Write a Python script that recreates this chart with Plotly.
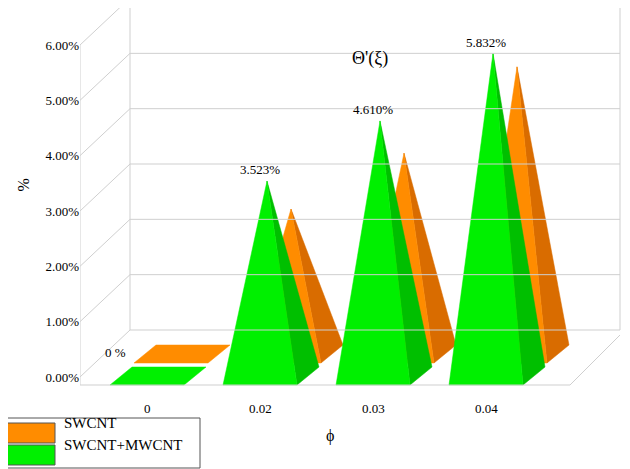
import plotly.graph_objects as go

categories = ["0", "0.02", "0.03", "0.04"]
hybrid = [0.0, 3.523, 4.610, 5.832]      # SWCNT+MWCNT (%)
single = [0.0, 2.62, 3.63, 5.19]          # SWCNT (%)
value_labels = ["0 %", "3.523%", "4.610%", "5.832%"]
yticks = [0, 1, 2, 3, 4, 5, 6]

PXU, PYU = 113.0, 55.33
def X(px): return (px - 147) / PXU
def Y(py): return (377 - py) / PYU
L, W = 72, 558
def PX(px): return (px - 80) / W
def PY(py): return 1 - (py - 8) / 469

fig = go.Figure()
grid = dict(color="#cfcfcf", width=1)
DX, DY = 50 / PXU, 47 / PYU
shapes = []
for t in yticks:
    shapes.append(dict(type="line", x0=X(80), y0=t, x1=X(80) + DX, y1=t + DY, line=grid))
    shapes.append(dict(type="line", x0=X(80) + DX, y0=t + DY, x1=X(620), y1=t + DY, line=grid))
shapes.append(dict(type="line", x0=X(130), y0=Y(0), x1=X(130), y1=Y(330), line=grid))
shapes.append(dict(type="line", x0=X(620), y0=Y(0), x1=X(620), y1=Y(330), line=grid))
shapes.append(dict(type="line", x0=X(80), y0=Y(385), x1=X(570), y1=Y(385), line=grid))
shapes.append(dict(type="line", x0=X(570), y0=Y(385), x1=X(620), y1=Y(335), line=grid))
shapes.append(dict(type="line", x0=X(80), y0=Y(385), x1=X(80), y1=Y(45), line=grid))

HW = 37 / PXU
DDX, DDY = 22 / PXU, 18 / PYU

def pyramid(xc, yb, h, front, side, ox=0.0, oy=0.0):
    xc += ox; yb += oy
    fl = (xc - HW, yb); fr = (xc + HW, yb)
    br = (xc + HW + DDX, yb + DDY); bl = (xc - HW + DDX, yb + DDY)
    if h <= 0:
        pts = [fl, fr, br, bl, fl]
        fig.add_trace(go.Scatter(x=[p[0] for p in pts], y=[p[1] for p in pts], fill="toself",
                                 fillcolor=front, line=dict(color=front, width=0.5),
                                 mode="lines", hoverinfo="skip", showlegend=False))
        return
    apex = (xc + DDX / 2 - 4 / PXU, yb + DDY / 2 + h)
    for pts, c in ([[fr, br, apex, fr], side], [[fl, fr, apex, fl], front]):
        fig.add_trace(go.Scatter(x=[p[0] for p in pts], y=[p[1] for p in pts], fill="toself",
                                 fillcolor=c, line=dict(color=c, width=0.5),
                                 mode="lines", hoverinfo="skip", showlegend=False))

base = -8 / PYU
for i, v in enumerate(single):
    pyramid(i, base, v, "#ff8c00", "#d96c00", ox=24 / PXU, oy=22 / PYU)
for i, v in enumerate(hybrid):
    pyramid(i, base, v, "#00f000", "#00bf00")

ann = []
for i, v in enumerate(hybrid):
    if v > 0:
        ann.append(dict(x=i + 0.0, y=v + 0.05, text=value_labels[i], showarrow=False,
                        yanchor="bottom", font=dict(size=13)))
ann.append(dict(x=X(115), y=Y(352), text=value_labels[0], showarrow=False, font=dict(size=13)))
for i, c in enumerate(categories):
    ann.append(dict(x=i, y=Y(408), text=c, showarrow=False, font=dict(size=13)))
ann.append(dict(x=X(370), y=Y(58), text="Θ'(ξ)", showarrow=False, font=dict(size=18)))
ann.append(dict(x=X(330), y=Y(436), text="ϕ", showarrow=False, font=dict(size=16)))
ann.append(dict(x=PX(12), y=PY(185), xref="paper", yref="paper", text="%",
                textangle=-90, showarrow=False, font=dict(size=16)))
shapes.append(dict(type="rect", xref="paper", yref="paper", x0=PX(1), x1=PX(200),
                   y0=PY(468), y1=PY(418), line=dict(color="#555", width=1)))
for j, (c, name) in enumerate([("#ff8c00", "SWCNT"), ("#00f000", "SWCNT+MWCNT")]):
    y0 = 423 + j * 22
    shapes.append(dict(type="rect", xref="paper", yref="paper", x0=PX(5), x1=PX(55),
                       y0=PY(y0 + 20), y1=PY(y0), fillcolor=c, line=dict(color="#555", width=1)))
    ann.append(dict(xref="paper", yref="paper", x=PX(62), y=PY(y0 + 10),
                    text=name, showarrow=False, xanchor="left", font=dict(size=15)))

fig.update_layout(
    width=630, height=469, margin=dict(l=L, r=0, t=0, b=0),
    plot_bgcolor="white", paper_bgcolor="white",
    font=dict(family="Liberation Serif", color="black"),
    xaxis=dict(range=[X(80), X(80 + W)], visible=False),
    yaxis=dict(range=[Y(8 + 469), Y(8)], tickvals=yticks, ticktext=[f"{t:.2f}%" for t in yticks],
               showgrid=False, zeroline=False, tickfont=dict(size=13), ticks=""),
    shapes=shapes, annotations=ann,
)
fig.write_html("out.html")
